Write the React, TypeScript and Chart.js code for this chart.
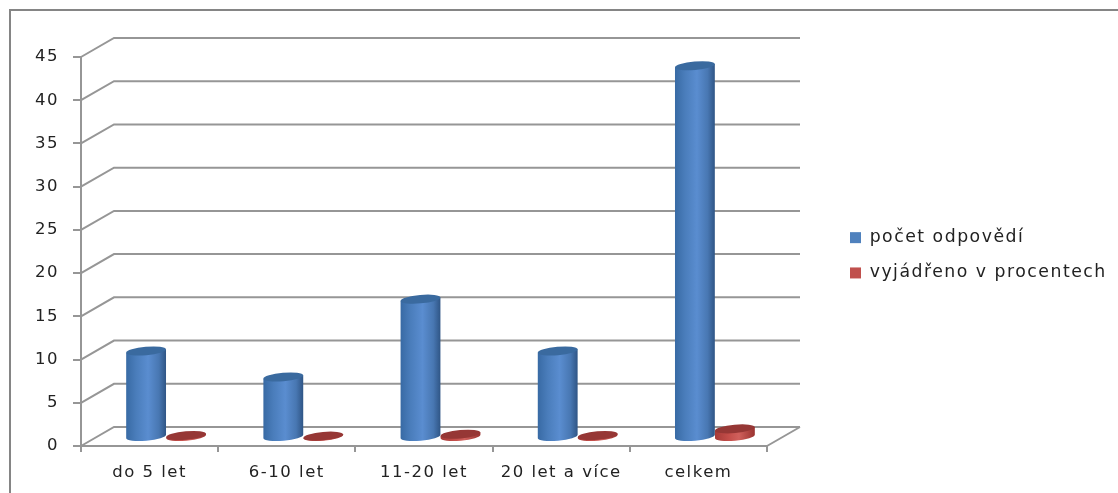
import React, { useEffect, useRef } from "react";
import { Chart, BarController, BarElement, CategoryScale, LinearScale, Legend } from "chart.js";

const categories = ["do 5 let", "6-10 let", "11-20 let", "20 let a více", "celkem"];
const responseCounts = [10, 7, 16, 10, 43];
const percentShares = [0.23, 0.16, 0.37, 0.23, 1];
const seriesNames = ["počet odpovědí", "vyjádřeno v procentech"];
const yTickMax = 45;
const yTickStep = 5;

const BLUE = "#4f81bd";
const RED = "#c0504d";
const GRID = "#969696";
const TEXT = "#222222";
const FONT = "'DejaVu Sans'";
const TRACKING = "1.5px";

// Depth of the 3D box: how far the back wall sits from the front plane.
const DEPTH_X = 33;
const DEPTH_Y = -19;
const CYLINDER_LIFT = -8.5;
const CAP_RY = 4.2;
const CAP_TILT = -0.09;

const palettes: Record<string, { side: [number, string][]; cap: string }> = {
  [BLUE]: {
    side: [[0, "#386aa4"], [0.25, "#4a7dbb"], [0.55, "#5a8dd0"], [0.82, "#4877b2"], [1, "#2f5585"]],
    cap: "#3a6a9f",
  },
  [RED]: {
    side: [[0, "#a63a37"], [0.35, "#c44e4a"], [0.6, "#d0605c"], [1, "#9a3330"]],
    cap: "#963735",
  },
};

// Bar element painted as a cylinder standing halfway into the box depth.
class CylinderElement extends BarElement {
  static id = "cylinder";
  static defaults = { ...BarElement.defaults };
  static defaultRoutes = BarElement.defaultRoutes;

  draw(ctx: CanvasRenderingContext2D) {
    const self = this as any;
    const palette = palettes[self.options.backgroundColor] ?? palettes[BLUE];
    const cx = self.x + DEPTH_X / 2;
    const rx = self.width / 2;
    const topY = self.y + CYLINDER_LIFT;
    const baseY = self.base + CYLINDER_LIFT;
    const dy = rx * Math.sin(CAP_TILT);
    const dx = rx * Math.cos(CAP_TILT);

    const gradient = ctx.createLinearGradient(cx - rx, 0, cx + rx, 0);
    palette.side.forEach(([stop, colour]) => gradient.addColorStop(stop, colour));

    ctx.save();
    ctx.fillStyle = gradient;
    ctx.beginPath();
    ctx.moveTo(cx - dx, topY - dy);
    ctx.lineTo(cx + dx, topY + dy);
    ctx.lineTo(cx + dx, baseY + dy);
    ctx.ellipse(cx, baseY, rx, CAP_RY, CAP_TILT, 0, Math.PI);
    ctx.closePath();
    ctx.fill();

    ctx.fillStyle = palette.cap;
    ctx.beginPath();
    ctx.ellipse(cx, topY, rx, CAP_RY, CAP_TILT, 0, Math.PI * 2);
    ctx.fill();
    ctx.restore();
  }
}

class CylinderController extends BarController {
  static id = "cylinderBar";
  static defaults = { ...BarController.defaults, dataElementType: "cylinder" };
  static overrides = BarController.overrides;
}

Chart.register(CategoryScale, LinearScale, Legend, BarElement, CylinderElement, CylinderController);

// Outer frame, box walls and floor, all taken from the axis scales.
const boxPlugin = {
  id: "box3d",
  beforeUpdate(chart: any) {
    chart.ctx.letterSpacing = TRACKING;
  },
  beforeDraw(chart: any) {
    chart.ctx.letterSpacing = TRACKING;
  },
  afterLayout(chart: any) {
    const legend = chart.legend;
    const h = legend.bottom - legend.top;
    const w = legend.right - legend.left;
    legend.left = 832;
    legend.right = 832 + w;
    legend.top = 211;
    legend.bottom = 211 + h;
  },
  beforeDatasetsDraw(chart: any) {
    const { ctx, scales, chartArea } = chart;
    const { left, right, bottom } = chartArea;
    ctx.save();
    ctx.strokeStyle = "#858585";
    ctx.lineWidth = 2;
    ctx.beginPath();
    ctx.moveTo(10, 500);
    ctx.lineTo(10, 10);
    ctx.lineTo(1118, 10);
    ctx.stroke();

    ctx.strokeStyle = GRID;
    ctx.lineWidth = 2;
    ctx.beginPath();
    scales.y.ticks.forEach((tick: any) => {
      const y = scales.y.getPixelForValue(tick.value);
      ctx.moveTo(left, y);
      ctx.lineTo(left + DEPTH_X, y + DEPTH_Y);
      ctx.lineTo(right + DEPTH_X, y + DEPTH_Y);
    });
    ctx.moveTo(right, bottom);
    ctx.lineTo(right + DEPTH_X, bottom + DEPTH_Y);
    ctx.stroke();
    ctx.restore();
  },
  // Series are painted first to last so the red cylinders overlap the blue ones.
  beforeDatasetDraw() {
    return false;
  },
  afterDatasetsDraw(chart: any) {
    chart.data.datasets.forEach((_: unknown, i: number) => {
      chart.getDatasetMeta(i).controller.draw();
    });
  },
};

export default function App() {
  const ref = useRef<HTMLCanvasElement | null>(null);

  useEffect(() => {
    if (!ref.current) return;
    const chart = new Chart(ref.current, {
      type: "cylinderBar" as any,
      data: {
        labels: categories,
        datasets: [
          { label: seriesNames[0], data: responseCounts, backgroundColor: BLUE, borderWidth: 0 },
          { label: seriesNames[1], data: percentShares, backgroundColor: RED, borderWidth: 0 },
        ],
      },
      options: {
        responsive: false,
        animation: false,
        layout: { padding: { left: 0, top: 57, right: 351, bottom: 0 } },
        datasets: {
          cylinderBar: { categoryPercentage: 0.583, barPercentage: 1 },
        } as any,
        scales: {
          x: {
            type: "category",
            offset: true,
            afterFit: (scale: any) => {
              scale.height = 47;
            },
            border: { color: GRID, width: 2 },
            grid: { drawOnChartArea: false, offset: true, color: GRID, lineWidth: 2, tickLength: 6 },
            ticks: { color: TEXT, font: { family: FONT, size: 16.5 }, padding: 11, maxRotation: 0, autoSkip: false },
          },
          y: {
            type: "linear",
            min: 0,
            max: yTickMax,
            afterFit: (scale: any) => {
              scale.width = 81;
            },
            border: { color: GRID, width: 2 },
            grid: { drawOnChartArea: false, color: GRID, lineWidth: 2, tickLength: 8 },
            ticks: { stepSize: yTickStep, color: TEXT, font: { family: FONT, size: 16.5 }, padding: 14 },
          },
        },
        plugins: {
          tooltip: { enabled: false },
          title: { display: false },
          legend: {
            display: true,
            position: "chartArea",
            align: "start",
            labels: {
              boxWidth: 11,
              boxHeight: 11,
              padding: 18,
              color: TEXT,
              font: { family: FONT, size: 17.3 },
            },
          },
        },
      } as any,
      plugins: [boxPlugin as any],
    });
    return () => chart.destroy();
  }, []);

  return (
    <div style={{ position: "fixed", left: 0, top: 0, width: 1118, height: 493, background: "#ffffff" }}>
      <canvas ref={ref} width={1118} height={493} style={{ display: "block" }} />
    </div>
  );
}
